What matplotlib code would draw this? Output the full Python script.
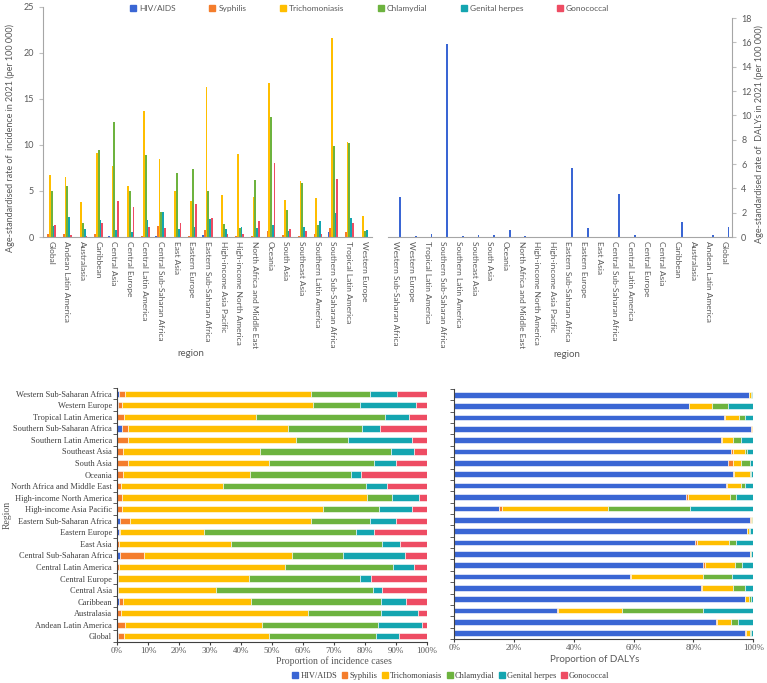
import numpy as np
import matplotlib
matplotlib.use('Agg')
import matplotlib.pyplot as plt
from matplotlib.ticker import PercentFormatter, FixedLocator
from matplotlib.patches import Patch

# series and colours
series = ['HIV/AIDS', 'Syphilis', 'Trichomoniasis', 'Chlamydial', 'Genital herpes', 'Gonococcal']
colors = ['#3a66d4', '#f47d2c', '#ffbe00', '#6db33f', '#14a5b0', '#ee4c63']

regions = ['Global', 'Andean Latin America', 'Australasia', 'Caribbean', 'Central Asia',
           'Central Europe', 'Central Latin America', 'Central Sub-Saharan Africa', 'East Asia',
           'Eastern Europe', 'Eastern Sub-Saharan Africa', 'High-income Asia Pacific',
           'High-income North America', 'North Africa and Middle East', 'Oceania', 'South Asia',
           'Southeast Asia', 'Southern Latin America', 'Southern Sub-Saharan Africa',
           'Tropical Latin America', 'Western Europe', 'Western Sub-Saharan Africa']

# age-standardised incidence rate 2021 (left top panel, first 21 regions)
inc_hiv = [0.05, 0.02, 0.0, 0.05, 0.1, 0.02, 0.02, 0.15, 0.02, 0.05, 0.2, 0.02, 0.05, 0.02,
           0.05, 0.02, 0.05, 0.02, 0.55, 0.05, 0.02]
inc_syph = [0.3, 0.35, 0.05, 0.35, 0.05, 0.05, 0.1, 1.15, 0.05, 0.1, 0.8, 0.05, 0.1, 0.1,
            0.65, 0.25, 0.15, 0.3, 0.95, 0.5, 0.05]
inc_trich = [6.75, 6.5, 3.85, 9.15, 7.7, 5.5, 13.7, 8.5, 4.95, 3.9, 16.3, 4.55, 9.0, 4.35,
             16.7, 4.0, 6.1, 4.25, 21.6, 10.3, 2.25]
inc_chlam = [5.0, 5.5, 1.55, 9.4, 12.5, 5.0, 8.9, 2.75, 6.9, 7.35, 5.0, 1.4, 1.0, 6.2,
             13.05, 2.9, 5.9, 1.3, 9.9, 10.2, 0.6]
inc_herpes = [1.15, 2.15, 0.85, 1.8, 0.75, 0.5, 1.8, 2.75, 0.9, 1.05, 2.0, 0.9, 1.1, 0.95,
              1.35, 0.6, 1.1, 1.7, 2.6, 2.05, 0.75]
inc_gono = [1.3, 0.2, 0.15, 1.5, 3.95, 3.25, 1.05, 0.95, 1.55, 3.55, 2.1, 0.35, 0.3, 1.75,
            8.05, 0.85, 0.6, 0.35, 6.35, 1.5, 0.05]

# age-standardised DALY rate 2021, HIV/AIDS (right top panel, all 22 regions)
daly_hiv = [0.8, 0.15, 0.0, 1.2, 0.03, 0.01, 0.15, 3.55, 0.02, 0.7, 5.65, 0.01, 0.03, 0.1,
            0.55, 0.15, 0.2, 0.1, 15.9, 0.25, 0.05, 3.3]

# proportion of incidence cases (%)
pinc_hiv = [0.2, 0.1, 0.1, 0.6, 0.1, 0.1, 0.1, 1.1, 0.1, 0.75, 0.9, 0.1, 0.1, 0.1, 0.1, 0.1,
            0.1, 0.1, 1.5, 0.1, 0.2, 0.8]
pinc_syph = [2.0, 2.4, 1.2, 1.4, 0.2, 0.3, 0.4, 7.5, 0.55, 0.25, 3.3, 1.5, 1.4, 1.2, 1.9, 3.6,
             1.7, 3.6, 2.2, 2.2, 1.3, 1.9]
pinc_trich = [46.8, 44.2, 60.2, 41.2, 31.6, 42.3, 53.8, 48.0, 36.25, 27.2, 58.4, 64.9, 79.1,
              32.9, 40.8, 45.5, 44.4, 54.0, 51.4, 42.6, 61.7, 59.9]
pinc_chlam = [34.7, 37.4, 23.8, 42.1, 50.7, 35.8, 34.7, 16.5, 48.6, 48.9, 18.9, 18.1, 8.1,
              46.1, 32.7, 33.8, 42.2, 16.7, 23.9, 41.7, 15.3, 19.1]
pinc_herpes = [7.4, 14.3, 12.0, 8.0, 2.9, 3.4, 6.7, 19.7, 5.9, 5.9, 8.6, 10.6, 8.9, 6.8, 3.4,
               7.1, 7.6, 20.8, 5.9, 7.7, 18.1, 8.8]
pinc_gono = [8.9, 1.6, 2.7, 6.7, 14.5, 18.1, 4.3, 7.2, 8.6, 17.0, 9.9, 4.8, 2.4, 12.9, 21.1,
             9.9, 4.0, 4.8, 15.1, 5.7, 3.4, 9.5]

# proportion of DALYs (%)
pdaly_hiv = [97.4, 87.4, 34.3, 97.2, 82.5, 58.7, 83.1, 98.8, 80.7, 97.8, 98.9, 15.0, 77.7,
             91.0, 93.2, 91.7, 92.6, 89.3, 99.4, 90.2, 78.4, 98.5]
pdaly_syph = [0.2, 0.5, 0.6, 0.2, 0.4, 0.6, 0.7, 0.1, 0.5, 0.1, 0.2, 0.9, 0.5, 0.3, 0.5, 1.4,
              0.6, 0.3, 0.1, 0.4, 0.2, 0.1]
pdaly_trich = [1.3, 4.7, 21.2, 1.1, 10.4, 23.8, 10.1, 0.3, 10.6, 0.7, 0.6, 35.4, 14.2, 4.7,
               5.1, 2.9, 3.9, 3.7, 0.3, 4.6, 7.7, 0.8]
pdaly_chlam = [0.3, 2.3, 27.0, 0.6, 4.0, 9.9, 2.2, 0.1, 2.6, 0.3, 0.1, 27.5, 1.9, 1.2, 0.3,
               2.9, 0.7, 2.5, 0.1, 1.9, 5.3, 0.2]
pdaly_herpes = [0.8, 5.1, 16.9, 0.9, 2.7, 7.0, 3.9, 0.7, 5.6, 1.1, 0.2, 21.2, 5.7, 2.8, 0.9,
                1.1, 2.2, 4.2, 0.1, 2.9, 8.4, 0.4]
pdaly_gono = [0.0] * 22

sans = 'Lato'
serif = 'Liberation Serif'
grey = '#595959'
plt.rcParams['font.family'] = sans

fig = plt.figure(figsize=(7.67, 6.83), dpi=100)

# ---- top left: incidence rates
ax1 = fig.add_axes([0.056, 0.653, 0.429, 0.337])
n1 = 21
x1 = np.arange(n1)
w = 0.11
inc = [inc_hiv, inc_syph, inc_trich, inc_chlam, inc_herpes, inc_gono]
for i in range(6):
    ax1.bar(x1 + (i - 2.5) * w, inc[i], w, color=colors[i], label=series[i])
ax1.set_xlim(-0.5, n1 - 0.5)
ax1.set_ylim(0, 25)
ax1.set_yticks(range(0, 26, 5))
ax1.set_xticks(x1)
ax1.set_xticklabels(regions[:n1], rotation=270, fontsize=6, color=grey)
ax1.tick_params(axis='x', length=0, pad=3)
ax1.tick_params(axis='y', labelsize=6.5, colors=grey, length=3, color='#bfbfbf')
for s in ['top', 'right']:
    ax1.spines[s].set_visible(False)
for s in ['left', 'bottom']:
    ax1.spines[s].set_color('#a6a6a6')
ax1.set_ylabel('Age-standardised rate of  incidence in 2021 (per 100 000)', fontsize=6.5, color=grey)
ax1.yaxis.set_label_coords(-0.085, 0.43)
ax1.set_xlabel('region', fontsize=7, color=grey)
ax1.xaxis.set_label_coords(0.45, -0.487)

# ---- top right: DALY rates
ax2 = fig.add_axes([0.506, 0.653, 0.4485, 0.3206])
x2 = np.arange(len(regions))
ax2.bar(x2 - 2.5 * w, daly_hiv, w, color=colors[0])
ax2.set_xlim(len(regions) - 0.5, -0.5)
ax2.set_ylim(0, 18)
ax2.set_yticks(range(0, 19, 2))
ax2.yaxis.tick_right()
ax2.yaxis.set_label_position('right')
ax2.set_xticks(x2)
ax2.set_xticklabels(regions, rotation=270, fontsize=6, color=grey)
ax2.tick_params(axis='x', length=0, pad=3)
ax2.tick_params(axis='y', labelsize=6.5, colors=grey, length=3, color='#bfbfbf')
for s in ['top', 'left']:
    ax2.spines[s].set_visible(False)
for s in ['right', 'bottom']:
    ax2.spines[s].set_color('#a6a6a6')
ax2.set_ylabel('Age-standardised rate of  DALYs in 2021 (per 100 000)', fontsize=6.5, color=grey,
               rotation=90)
ax2.yaxis.set_label_coords(1.065, 0.47)
ax2.set_xlabel('region', fontsize=7, color=grey)
ax2.xaxis.set_label_coords(0.52, -0.516)

fig.legend(handles=[Patch(color=c, label=s) for c, s in zip(colors, series)],
           loc='center', bbox_to_anchor=(0.482, 0.988), ncol=6, frameon=False,
           prop={'family': sans, 'size': 6}, labelcolor=grey, handlelength=0.7,
           handleheight=0.7, handletextpad=0.4, columnspacing=4.0)

# ---- bottom panels: stacked proportions
def stacked(ax, data, height, step):
    y = np.arange(len(regions))
    left = np.zeros(len(regions))
    for i in range(6):
        vals = np.array(data[i]) / 100.0
        ax.barh(y, vals, height, left=left, color=colors[i], edgecolor='white', linewidth=0.4)
        left = left + vals
    ax.set_xlim(0, 1)
    ax.set_ylim(-0.5, len(regions) - 0.5)
    ax.set_xticks(np.arange(0, 1.0001, step))
    ax.xaxis.set_major_formatter(PercentFormatter(1.0, decimals=0))
    ax.set_yticks(y)
    ax.yaxis.set_minor_locator(FixedLocator(np.arange(-0.5, len(regions), 1.0)))
    ax.tick_params(axis='y', which='major', length=0)
    ax.tick_params(axis='y', which='minor', length=3, color='#404040')
    ax.tick_params(axis='x', length=2, pad=1.5, color='#404040')
    for s in ['top', 'right']:
        ax.spines[s].set_visible(False)
    for s in ['left', 'bottom']:
        ax.spines[s].set_color('#404040')
        ax.spines[s].set_linewidth(0.8)
    for lab in ax.get_xticklabels():
        lab.set_fontfamily(serif)
        lab.set_fontsize(6.5)
        lab.set_color(grey)

ax3 = fig.add_axes([0.1525, 0.060, 0.404, 0.372])
stacked(ax3, [pinc_hiv, pinc_syph, pinc_trich, pinc_chlam, pinc_herpes, pinc_gono], 0.55, 0.1)
ax3.set_yticklabels(regions, fontfamily=serif, fontsize=6, color='#404040')
ax3.set_ylabel('Region', fontfamily=serif, fontsize=7, color=grey)
ax3.yaxis.set_label_coords(-0.339, 0.5)
ax3.set_xlabel('Proportion of incidence cases', fontfamily=serif, fontsize=7, color=grey)
ax3.xaxis.set_label_coords(0.70, -0.055)

ax4 = fig.add_axes([0.592, 0.0644, 0.390, 0.366])
stacked(ax4, [pdaly_hiv, pdaly_syph, pdaly_trich, pdaly_chlam, pdaly_herpes, pdaly_gono], 0.5, 0.2)
ax4.set_yticklabels([])
ax4.set_xlabel('Proportion of DALYs', fontfamily=sans, fontsize=7, color=grey)
ax4.xaxis.set_label_coords(0.47, -0.062)

fig.legend(handles=[Patch(color=c, label=s) for c, s in zip(colors, series)],
           loc='center', bbox_to_anchor=(0.588, 0.010), ncol=6, frameon=False,
           prop={'family': serif, 'size': 6}, labelcolor='#404040', handlelength=0.7,
           handleheight=0.7, handletextpad=0.3, columnspacing=0.5)

fig.savefig('out.png', dpi=100)
